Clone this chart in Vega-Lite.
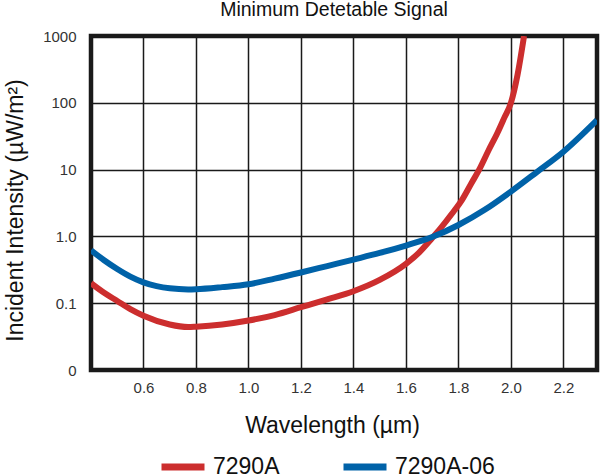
{
  "$schema": "https://vega.github.io/schema/vega-lite/v6.json",
  "autosize": "none",
  "width": 506,
  "height": 334,
  "padding": {"left": 91, "top": 36, "right": 3, "bottom": 106},
  "background": "white",
  "title": {
    "text": "Minimum Detetable Signal",
    "font": "Liberation Sans",
    "fontSize": 19.5,
    "fontWeight": "normal",
    "color": "#111111",
    "anchor": "middle",
    "baseline": "alphabetic",
    "offset": 13,
    "dx": -10,
    "dy": 19.5
  },
  "config": {
    "view": {"stroke": "#1a1a1a", "strokeWidth": 4.5},
    "font": "Liberation Sans"
  },
  "data": {
    "values": [
      {"wavelength": 0.4, "intensity": 0.199, "series": "7290A"},
      {"wavelength": 0.45, "intensity": 0.143, "series": "7290A"},
      {"wavelength": 0.5, "intensity": 0.108, "series": "7290A"},
      {"wavelength": 0.55, "intensity": 0.0815, "series": "7290A"},
      {"wavelength": 0.6, "intensity": 0.065, "series": "7290A"},
      {"wavelength": 0.7, "intensity": 0.048, "series": "7290A"},
      {"wavelength": 0.77, "intensity": 0.044, "series": "7290A"},
      {"wavelength": 0.8, "intensity": 0.0445, "series": "7290A"},
      {"wavelength": 0.9, "intensity": 0.048, "series": "7290A"},
      {"wavelength": 1.0, "intensity": 0.055, "series": "7290A"},
      {"wavelength": 1.1, "intensity": 0.0665, "series": "7290A"},
      {"wavelength": 1.2, "intensity": 0.087, "series": "7290A"},
      {"wavelength": 1.3, "intensity": 0.114, "series": "7290A"},
      {"wavelength": 1.4, "intensity": 0.151, "series": "7290A"},
      {"wavelength": 1.5, "intensity": 0.223, "series": "7290A"},
      {"wavelength": 1.6, "intensity": 0.388, "series": "7290A"},
      {"wavelength": 1.65, "intensity": 0.573, "series": "7290A"},
      {"wavelength": 1.7, "intensity": 0.945, "series": "7290A"},
      {"wavelength": 1.733, "intensity": 1.34, "series": "7290A"},
      {"wavelength": 1.775, "intensity": 2.18, "series": "7290A"},
      {"wavelength": 1.815, "intensity": 3.59, "series": "7290A"},
      {"wavelength": 1.85, "intensity": 6.3, "series": "7290A"},
      {"wavelength": 1.878, "intensity": 9.8, "series": "7290A"},
      {"wavelength": 1.915, "intensity": 19.5, "series": "7290A"},
      {"wavelength": 1.948, "intensity": 35, "series": "7290A"},
      {"wavelength": 1.975, "intensity": 60, "series": "7290A"},
      {"wavelength": 2.0, "intensity": 100, "series": "7290A"},
      {"wavelength": 2.025, "intensity": 260, "series": "7290A"},
      {"wavelength": 2.05, "intensity": 1000, "series": "7290A"},
      {"wavelength": 0.4, "intensity": 0.62, "series": "7290A-06"},
      {"wavelength": 0.45, "intensity": 0.44, "series": "7290A-06"},
      {"wavelength": 0.5, "intensity": 0.325, "series": "7290A-06"},
      {"wavelength": 0.55, "intensity": 0.25, "series": "7290A-06"},
      {"wavelength": 0.6, "intensity": 0.205, "series": "7290A-06"},
      {"wavelength": 0.65, "intensity": 0.18, "series": "7290A-06"},
      {"wavelength": 0.7, "intensity": 0.167, "series": "7290A-06"},
      {"wavelength": 0.77, "intensity": 0.161, "series": "7290A-06"},
      {"wavelength": 0.8, "intensity": 0.162, "series": "7290A-06"},
      {"wavelength": 0.9, "intensity": 0.174, "series": "7290A-06"},
      {"wavelength": 1.0, "intensity": 0.192, "series": "7290A-06"},
      {"wavelength": 1.1, "intensity": 0.233, "series": "7290A-06"},
      {"wavelength": 1.2, "intensity": 0.288, "series": "7290A-06"},
      {"wavelength": 1.3, "intensity": 0.36, "series": "7290A-06"},
      {"wavelength": 1.4, "intensity": 0.45, "series": "7290A-06"},
      {"wavelength": 1.5, "intensity": 0.565, "series": "7290A-06"},
      {"wavelength": 1.6, "intensity": 0.73, "series": "7290A-06"},
      {"wavelength": 1.7, "intensity": 0.977, "series": "7290A-06"},
      {"wavelength": 1.8, "intensity": 1.48, "series": "7290A-06"},
      {"wavelength": 1.9, "intensity": 2.5, "series": "7290A-06"},
      {"wavelength": 2.0, "intensity": 4.69, "series": "7290A-06"},
      {"wavelength": 2.1, "intensity": 9.26, "series": "7290A-06"},
      {"wavelength": 2.2, "intensity": 18.5, "series": "7290A-06"},
      {"wavelength": 2.328, "intensity": 55, "series": "7290A-06"}
    ]
  },
  "mark": {"type": "line", "strokeWidth": 6, "interpolate": "monotone", "clip": true},
  "encoding": {
    "x": {
      "field": "wavelength",
      "type": "quantitative",
      "scale": {"domain": [0.4, 2.328], "nice": false, "zero": false},
      "axis": {
        "title": "Wavelength (µm)",
        "values": [0.6, 0.8, 1.0, 1.2, 1.4, 1.6, 1.8, 2.0, 2.2],
        "format": ".1f",
        "domain": false,
        "ticks": false,
        "labelFontSize": 15,
        "labelColor": "#333333",
        "labelPadding": 10,
        "gridColor": "#1a1a1a",
        "gridWidth": 1.5,
        "gridOpacity": 1,
        "titleFontSize": 23,
        "titleFontWeight": "normal",
        "titleColor": "#111111",
        "titleX": 241,
        "titleY": 62,
        "titleBaseline": "alphabetic"
      }
    },
    "y": {
      "field": "intensity",
      "type": "quantitative",
      "scale": {"type": "log", "domain": [0.01, 1000], "nice": false},
      "axis": {
        "title": "Incident Intensity (µW/m²)",
        "values": [0.01, 0.1, 1, 10, 100, 1000],
        "labelExpr": "datum.value < 0.05 ? '0' : datum.value == 1 ? '1.0' : datum.value < 0.5 ? '0.1' : format(datum.value, 'd')",
        "domain": false,
        "ticks": false,
        "labelFontSize": 15,
        "labelColor": "#333333",
        "labelPadding": 15,
        "gridColor": "#1a1a1a",
        "gridWidth": 1.5,
        "gridOpacity": 1,
        "titleFontSize": 23,
        "titleFontWeight": "normal",
        "titleColor": "#111111",
        "titleX": -69,
        "titleY": 174,
        "titleBaseline": "alphabetic",
        "titleAngle": 270
      }
    },
    "color": {
      "field": "series",
      "type": "nominal",
      "scale": {"domain": ["7290A", "7290A-06"], "range": ["#cc2e2e", "#0062a8"]},
      "legend": {
        "title": null,
        "orient": "none",
        "direction": "horizontal",
        "legendX": 67,
        "legendY": 406,
        "symbolType": "stroke",
        "symbolSize": 1849,
        "symbolStrokeWidth": 7,
        "labelFontSize": 23,
        "labelColor": "#111111",
        "labelOffset": 5,
        "columnPadding": 49,
        "labelLimit": 200
      }
    }
  }
}
